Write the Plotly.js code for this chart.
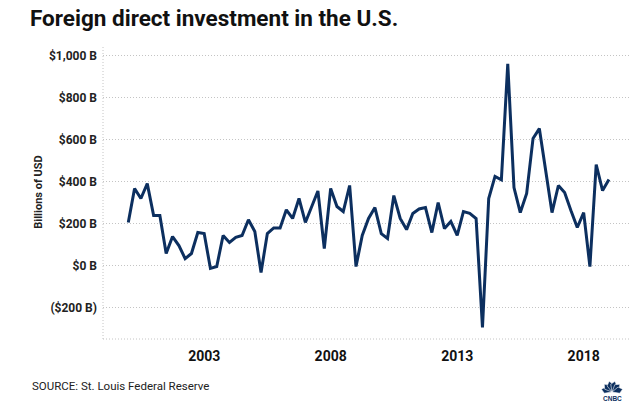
<!DOCTYPE html>
<html>
<head>
<meta charset="utf-8">
<script src="https://cdn.plot.ly/plotly-3.0.1.min.js"></script>
<style>html,body{margin:0;padding:0;background:#fff;}#chart{width:639px;height:404px;}</style>
</head>
<body>
<div id="chart"></div>
<script>
// Quarterly, 2000 Q1 .. 2019 Q1 (billions of USD)
const startYear = 2000;
const fdiValues = [
  205, 367, 319, 390,
  238, 238, 57, 138,
  95, 33, 57, 157,
  152, -14, -5, 143,
  110, 134, 143, 218,
  162, -33, 152, 179,
  179, 265, 224, 319,
  205, 276, 355, 81,
  367, 281, 257, 381,
  -5, 143, 224, 276,
  152, 129, 333, 224,
  171, 248, 269, 276,
  157, 300, 176, 210,
  143, 257, 248, 224,
  -295, 319, 424, 408,
  960, 371, 252, 343,
  605, 652, 462, 252,
  381, 348, 262, 181,
  252, -5, 481, 357,
  410
];
const yTickVals = [-200, 0, 200, 400, 600, 800, 1000];
const yTickText = ['($200 B)', '$0 B', '$200 B', '$400 B', '$600 B', '$800 B', '$1,000 B'];
const xTickVals = ['2003-01-01', '2008-01-01', '2013-01-01', '2018-01-01'];
const xTickText = ['2003', '2008', '2013', '2018'];

const dates = fdiValues.map((v, i) => {
  const y = startYear + Math.floor(i / 4);
  const m = (i % 4) * 3 + 1;
  return y + '-' + String(m).padStart(2, '0') + '-01';
});

const trace = {
  x: dates, y: fdiValues, type: 'scatter', mode: 'lines',
  line: {color: '#0c2f5f', width: 3}, hoverinfo: 'skip'
};

// plot area geometry (pixels) for decorative logo placement
const L = 103, T = 45, W = 639 - 103 - 9, H = 404 - 45 - 65;
const px = x => (x - L) / W;
const py = y => (T + H - y) / H;

// CNBC peacock feathers (decoration)
const logoShapes = [];
const cx = 612, cy = 392;
const angles = [-75, -45, -15, 15, 45, 75];
angles.forEach(a => {
  const r = a * Math.PI / 180;
  const len = 11, wid = 3.2;
  const dx = Math.sin(r), dy = -Math.cos(r);
  const nx = Math.cos(r), ny = Math.sin(r);
  const tipx = cx + dx * len, tipy = cy + dy * len;
  const mx = cx + dx * len * 0.65, my = cy + dy * len * 0.65;
  const p = [
    [cx, cy],
    [mx + nx * wid, my + ny * wid],
    [tipx, tipy],
    [mx - nx * wid, my - ny * wid]
  ];
  const d = 'M ' + p.map(q => px(q[0]) + ',' + py(q[1])).join(' L ') + ' Z';
  logoShapes.push({type: 'path', xref: 'paper', yref: 'paper', path: d,
    fillcolor: '#0c2f5f', line: {color: '#ffffff', width: 0.6}});
});

const layout = {
  width: 639, height: 404,
  margin: {l: L, r: 9, t: T, b: 65},
  paper_bgcolor: '#fff', plot_bgcolor: '#fff',
  showlegend: false,
  font: {family: 'Roboto, Arial, sans-serif', color: '#111'},
  title: {
    text: '<b>Foreign direct investment in the U.S.</b>',
    font: {family: 'Roboto, sans-serif', size: 22.5, color: '#111'},
    x: 30 / 639, xref: 'container', xanchor: 'left', y: 0.975, yref: 'container', yanchor: 'top'
  },
  xaxis: {
    type: 'date',
    range: ['1999-01-01', '2019-11-01'],
    tickvals: xTickVals, ticktext: xTickText,
    tickfont: {family: 'Roboto, sans-serif', size: 14, color: '#111', weight: 'bold'},
    showgrid: false, zeroline: false, showline: false, ticks: '',
    ticklabelstandoff: 7
  },
  yaxis: {
    range: [-350, 1050],
    tickvals: yTickVals, ticktext: yTickText,
    tickfont: {family: 'Roboto, sans-serif', size: 12, color: '#222', weight: 'bold'},
    showgrid: true, gridcolor: '#c4c4c4', griddash: '1px,2px', gridwidth: 1,
    zeroline: false, showline: false, ticks: '',
    ticklabelstandoff: 5,
    title: {text: 'Billions of USD', font: {family: 'Roboto, sans-serif', size: 11, color: '#222', weight: 'bold'}, standoff: 4}
  },
  shapes: [
    {type: 'line', xref: 'paper', yref: 'paper', x0: 0, x1: 0, y0: 0, y1: 1,
     line: {color: '#c4c4c4', width: 1, dash: '1px,2px'}},
    {type: 'line', xref: 'paper', yref: 'paper', x0: 0, x1: 1, y0: 0, y1: 0,
     line: {color: '#c4c4c4', width: 1, dash: '1px,2px'}}
  ].concat(logoShapes),
  annotations: [
    {text: 'SOURCE: St. Louis Federal Reserve', xref: 'paper', yref: 'paper',
     x: px(30), y: py(386), xanchor: 'left', yanchor: 'middle', showarrow: false,
     font: {family: 'Roboto, sans-serif', size: 11.5, color: '#222'}},
    {text: '<b>CNBC</b>', xref: 'paper', yref: 'paper',
     x: px(612), y: py(398), xanchor: 'center', yanchor: 'middle', showarrow: false,
     font: {family: 'Arial, sans-serif', size: 6.5, color: '#0c2f5f'}}
  ]
};

Plotly.newPlot('chart', [trace], layout, {displayModeBar: false, staticPlot: true});
</script>
</body>
</html>
